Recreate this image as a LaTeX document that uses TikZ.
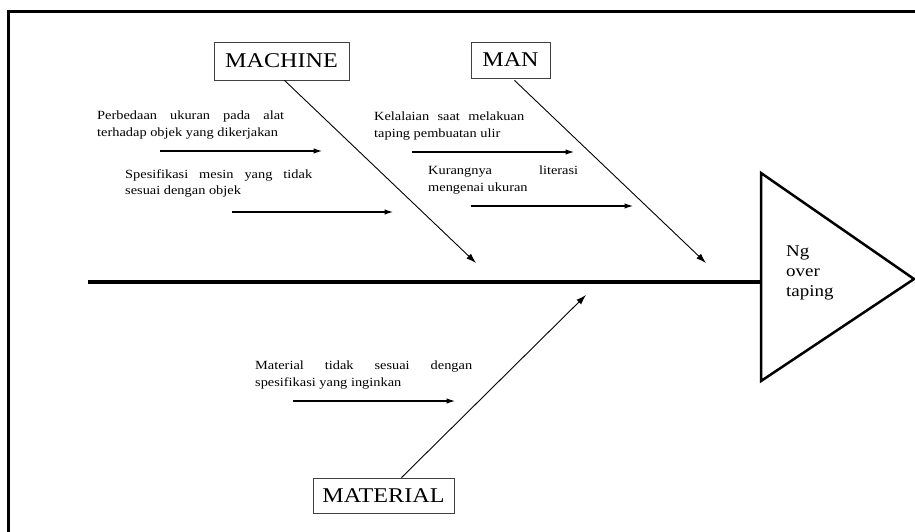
\documentclass[tikz,border=0pt]{standalone}
\usepackage{fontspec}
\setmainfont{Liberation Serif}[FakeStretch=1.15]
\usetikzlibrary{arrows.meta}
\hyphenpenalty=10000
\exhyphenpenalty=10000
\tikzset{
  namebox/.style={draw=black!75, line width=0.8pt, inner sep=0pt, font=\fontsize{21}{25}\selectfont},
  cause/.style={anchor=north west, inner sep=0pt, align=justify, font=\fontsize{12.5}{16.5}\selectfont},
  bone/.style={line width=0.9pt, -{Latex[length=10pt,width=6.5pt]}},
  subarrow/.style={line width=1.1pt, -{Latex[length=8.5pt,width=5.5pt]}}
}
\begin{document}
\begin{tikzpicture}[x=1pt,y=-1pt]
\useasboundingbox (0,0) rectangle (915,532);
\draw [line width=3pt] (915,12) -- (8,12) -- (8,532);
% head of the fish
\coordinate (head) at (761,282);
\coordinate (tail) at (88,282);
\draw [line width=2.5pt] (761,173) -- (914,279) -- (761,381) -- cycle;
\node [anchor=north west, inner sep=0pt, align=left, font=\fontsize{16.5}{20}\selectfont] (effect) at (786,245) {Ng\\over\\taping};
\draw [line width=4pt] (tail) -- (head);
% main bones
\node [namebox, minimum width=135pt, minimum height=38pt] (machine) at (281.5,61) {MACHINE};
\node [namebox, minimum width=79pt, minimum height=36pt] (man) at (510.5,60) {MAN};
\node [namebox, minimum width=141pt, minimum height=35pt] (material) at (383.5,495.5) {MATERIAL};
\coordinate (machinetip) at (476,263);
\coordinate (mantip) at (706,263);
\coordinate (materialtip) at (586,295);
\draw [bone] ([xshift=3pt]machine.south) -- (machinetip);
\draw [bone] ([xshift=4pt,yshift=-2pt]man.south) -- (mantip);
\draw [bone] ([xshift=18pt]material.north) -- (materialtip);
% causes
\node [cause, text width=187pt] (mach1) at (97,111) {Perbedaan ukuran pada alat terhadap objek yang dikerjakan};
\node [cause, text width=187pt] (mach2) at (125,169) {Spesifikasi mesin yang tidak sesuai dengan objek};
\node [cause, text width=150pt] (man1) at (374,112) {Kelalaian saat melakuan taping pembuatan ulir};
\node [cause, text width=150pt] (man2) at (428,166) {Kurangnya literasi mengenai ukuran};
\node [cause, text width=217pt] (mat1) at (255,361) {Material tidak sesuai dengan spesifikasi yang inginkan};
\coordinate (mach1s) at (160,151); \coordinate (mach1e) at (322,151);
\coordinate (mach2s) at (232,212); \coordinate (mach2e) at (393,212);
\coordinate (man1s) at (412,152); \coordinate (man1e) at (574,152);
\coordinate (man2s) at (471,206); \coordinate (man2e) at (633,206);
\coordinate (mat1s) at (293,401); \coordinate (mat1e) at (455,401);
\foreach \c in {mach1,mach2,man1,man2,mat1} {\draw [subarrow] (\c s) -- (\c e);}
\end{tikzpicture}
\end{document}
